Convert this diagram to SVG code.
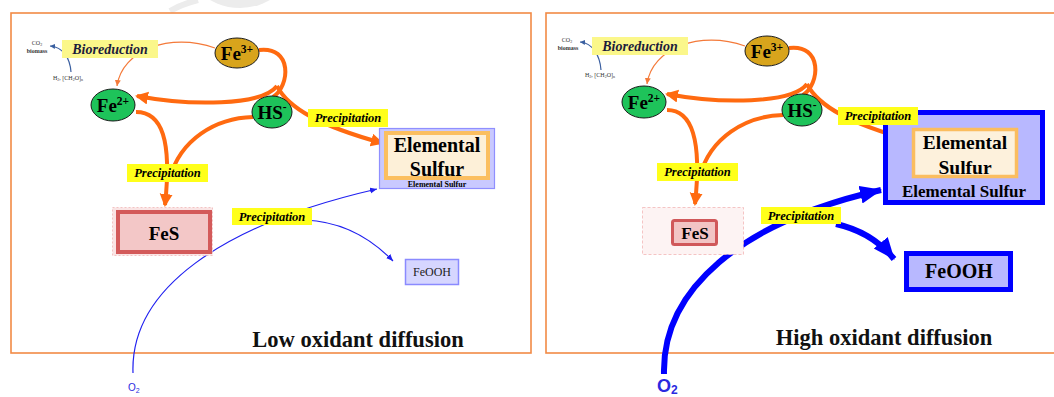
<svg xmlns="http://www.w3.org/2000/svg" width="1054" height="397" viewBox="0 0 1054 397">
<style>
.panel{fill:#fff;stroke:#f28a45;stroke-width:1.6}
.ion{font-family:"Liberation Serif",serif;font-weight:bold;font-size:19px;fill:#000;text-anchor:middle}
.sup{font-size:11.5px}
.lbl{font-family:"Liberation Serif",serif;font-weight:bold;font-style:italic;font-size:12.5px;fill:#000;text-anchor:middle}
.bio{font-family:"Liberation Serif",serif;font-weight:bold;font-style:italic;font-size:14px;fill:#1c1c3c;text-anchor:middle}
.ylw{fill:#ffff1a}
.ylwp{fill:#fbf78a}
.tiny{font-family:"Liberation Serif",serif;font-size:6px;fill:#333;text-anchor:middle}
.box{font-family:"Liberation Serif",serif;font-weight:bold;fill:#000;text-anchor:middle}
.title{font-family:"Liberation Serif",serif;font-weight:bold;font-size:22.5px;fill:#111;text-anchor:middle}
.or{fill:none;stroke:#ff6a10;stroke-width:4}
.orthin{fill:none;stroke:#f47a3a;stroke-width:1.2}
.bthin{fill:none;stroke:#2020f0;stroke-width:1.2}
.bthick{fill:none;stroke:#0000ff;stroke-width:6}
.steel{fill:none;stroke:#3a5fa0;stroke-width:1.2}
.o2{font-family:"Liberation Sans",sans-serif;fill:#2a2ae0}
</style>
<defs>
<marker id="aO" markerUnits="userSpaceOnUse" markerWidth="14" markerHeight="14" refX="11" refY="6.5" orient="auto" viewBox="0 0 14 14"><path d="M0,0 L13,6.5 L0,13 Z" fill="#ff6a10"/></marker>
<marker id="aOt" markerUnits="userSpaceOnUse" markerWidth="7" markerHeight="7" refX="6" refY="3" orient="auto" viewBox="0 0 7 7"><path d="M0,0 L6,3 L0,6 Z" fill="#f47a3a"/></marker>
<marker id="aR" markerUnits="userSpaceOnUse" markerWidth="15" markerHeight="13" refX="13" refY="6" orient="auto" viewBox="0 0 15 13"><path d="M0,0 L14,6 L0,12 Z" fill="#c8544a"/></marker>
<marker id="aBt" markerUnits="userSpaceOnUse" markerWidth="8" markerHeight="7" refX="7" refY="3" orient="auto" viewBox="0 0 8 7"><path d="M0,0 L7,3 L0,6 Z" fill="#2020f0"/></marker>
<marker id="aBk" markerUnits="userSpaceOnUse" markerWidth="23" markerHeight="19" refX="21" refY="9" orient="auto" viewBox="0 0 23 19"><path d="M0,0 L22,9 L0,18 Z" fill="#0000ff"/></marker>
<marker id="aS" markerUnits="userSpaceOnUse" markerWidth="6" markerHeight="6" refX="5" refY="2.5" orient="auto" viewBox="0 0 6 6"><path d="M0,0 L5,2.5 L0,5 Z" fill="#3a5fa0"/></marker>
</defs>
<rect width="1054" height="397" fill="#fff"/>
<g id="watermark">
<circle cx="240" cy="-52" r="60" fill="#ececec"/>
<path d="M170,11 Q182,4 198,0" fill="none" stroke="#ececec" stroke-width="6"/>
</g>
<g id="panels">
<rect class="panel" x="11" y="13" width="520" height="340"/>
<rect class="panel" x="546" y="13" width="520" height="340"/>
</g>
<g id="connectors">
<path class="steel" d="M71,72 C70,58 63,47 50,46" marker-end="url(#aS)"/>
<path class="orthin" d="M215,48 C170,32 122,50 117,86" marker-end="url(#aOt)"/>
<path class="or" d="M259,50 C293,46 290,86 273,97"/>
<path class="or" d="M277,86 C262,106 190,106 137,96" marker-end="url(#aO)"/>
<path class="or" d="M277,86 C288,108 320,126 382,143" marker-end="url(#aO)"/>
<path class="or" d="M136,112 C162,112 172,140 165,205" marker-end="url(#aO)"/>
<path class="or" d="M253,117 C215,118 180,140 170,178"/>
<path class="bthin" d="M133,373 C130,290 220,225 377,189" marker-end="url(#aBt)"/>
<path class="bthin" d="M305,220 Q355,222 393,261" marker-end="url(#aBt)"/>
<path class="steel" d="M601,70 C600,56 593,43 580,42" marker-end="url(#aS)"/>
<path class="orthin" d="M745,46 C700,30 652,48 647,84" marker-end="url(#aOt)"/>
<path class="or" d="M789,48 C823,44 820,84 803,95"/>
<path class="or" d="M807,84 C792,104 720,104 667,94" marker-end="url(#aO)"/>
<path class="or" d="M807,84 C818,106 850,124 910,140" marker-end="url(#aR)"/>
<path class="or" d="M667,110 C692,110 702,140 695,204" marker-end="url(#aO)"/>
<path class="or" d="M783,115 C745,116 710,138 700,176"/>
<path class="bthick" d="M664,374 C662,290 740,222 881,190" marker-end="url(#aBk)"/>
<path class="bthick" d="M836,224 Q872,232 894,259" marker-end="url(#aBk)"/>
</g>
<g id="L-fe3">
<ellipse cx="237" cy="53" rx="22" ry="15" fill="#d8a41c" stroke="#1a1a1a" stroke-width="1"/>
<text class="ion" x="237" y="60">Fe<tspan class="sup" dy="-7">3+</tspan></text>
</g>
<g id="L-fe2">
<ellipse cx="113" cy="105" rx="22" ry="16" fill="#1ec35a" stroke="#1a1a1a" stroke-width="1"/>
<text class="ion" x="113" y="112">Fe<tspan class="sup" dy="-7">2+</tspan></text>
</g>
<g id="L-hs">
<ellipse cx="272" cy="112" rx="20" ry="16" fill="#1ec35a" stroke="#1a1a1a" stroke-width="1"/>
<text class="ion" x="272" y="119">HS<tspan class="sup" dy="-8">-</tspan></text>
</g>
<g id="L-co2">
<text class="tiny" x="37" y="45">CO<tspan font-size="4" dy="1.2">2</tspan></text>
<text class="tiny" x="37" y="53" font-weight="bold">biomass</text>
<text class="tiny" x="68" y="80">H<tspan font-size="4" dy="1.2">2</tspan><tspan dy="-1.2">, [CH</tspan><tspan font-size="4" dy="1.2">2</tspan><tspan dy="-1.2">O]</tspan><tspan font-size="4" dy="1.2">n</tspan></text>
</g>
<g id="L-sulfur">
<rect x="379.5" y="128.5" width="115" height="60" fill="#c9c9ff" stroke="#8f8fff" stroke-width="1.2"/>
<rect x="386" y="133" width="102" height="45" fill="#fdf0d8" stroke="#fbbf60" stroke-width="4"/>
<text class="box" x="437" y="152" font-size="20">Elemental</text>
<text class="box" x="437" y="176" font-size="20">Sulfur</text>
<text class="box" x="437" y="186.5" font-size="8">Elemental Sulfur</text>
</g>
<g id="L-fes">
<rect x="112.5" y="207.5" width="100" height="48" fill="#fae4e4" stroke="#f0b8b8" stroke-width="0.8" stroke-dasharray="2,2"/>
<rect x="118" y="212" width="92" height="40" fill="#f3c7c7" stroke="#d35a5a" stroke-width="4"/>
<text class="box" x="164" y="240" font-size="19">FeS</text>
</g>
<g id="L-feooh">
<rect x="405.5" y="259.5" width="53" height="25" fill="#d6d6ff" stroke="#8a8aff" stroke-width="1.5"/>
<text x="432" y="276" font-family="Liberation Serif, serif" font-size="12" text-anchor="middle" fill="#222">FeOOH</text>
</g>
<g id="L-labels">
<rect class="ylwp" x="62" y="40" width="96" height="18"/>
<text class="bio" x="110" y="54">Bioreduction</text>
<rect class="ylw" x="308" y="109" width="80" height="18"/>
<text class="lbl" x="348" y="122">Precipitation</text>
<rect class="ylw" x="127" y="164" width="81" height="18"/>
<text class="lbl" x="167.5" y="177">Precipitation</text>
<rect class="ylw" x="232" y="208" width="80" height="17"/>
<text class="lbl" x="272" y="221">Precipitation</text>
</g>
<g id="L-o2">
<text class="o2" x="128" y="391" font-size="10">O<tspan font-size="7" dy="2">2</tspan></text>
</g>
<text class="title" x="358" y="347">Low oxidant diffusion</text>
<g id="R-fe3">
<ellipse cx="767" cy="51" rx="22" ry="15" fill="#d8a41c" stroke="#1a1a1a" stroke-width="1"/>
<text class="ion" x="767" y="58">Fe<tspan class="sup" dy="-7">3+</tspan></text>
</g>
<g id="R-fe2">
<ellipse cx="644" cy="102" rx="22" ry="16" fill="#1ec35a" stroke="#1a1a1a" stroke-width="1"/>
<text class="ion" x="644" y="109">Fe<tspan class="sup" dy="-7">2+</tspan></text>
</g>
<g id="R-hs">
<ellipse cx="802" cy="110" rx="20" ry="16" fill="#1ec35a" stroke="#1a1a1a" stroke-width="1"/>
<text class="ion" x="802" y="117">HS<tspan class="sup" dy="-8">-</tspan></text>
</g>
<g id="R-co2">
<text class="tiny" x="567" y="42">CO<tspan font-size="4" dy="1.2">2</tspan></text>
<text class="tiny" x="568" y="50" font-weight="bold">biomass</text>
<text class="tiny" x="600" y="77">H<tspan font-size="4" dy="1.2">2</tspan><tspan dy="-1.2">, [CH</tspan><tspan font-size="4" dy="1.2">2</tspan><tspan dy="-1.2">O]</tspan><tspan font-size="4" dy="1.2">n</tspan></text>
</g>
<g id="R-sulfur">
<rect x="885.5" y="112.5" width="157" height="90" fill="#b8b8ff" stroke="#0000ff" stroke-width="5"/>
<rect x="913.5" y="129.5" width="103" height="47" fill="#fdf1dc" stroke="#fbbd5f" stroke-width="3.5"/>
<text class="box" x="965" y="149" font-size="19.5">Elemental</text>
<text class="box" x="965" y="174" font-size="19.5">Sulfur</text>
<text class="box" x="964" y="197" font-size="17">Elemental Sulfur</text>
</g>
<g id="R-fes">
<rect x="642.5" y="207.5" width="101" height="47" fill="#fdf3f3" stroke="#f2b6b6" stroke-width="0.8" stroke-dasharray="3,2"/>
<rect x="672.5" y="220.5" width="44" height="24" rx="2" fill="#f2c4c4" stroke="#d0585a" stroke-width="3"/>
<text class="box" x="695" y="239" font-size="17">FeS</text>
</g>
<g id="R-feooh">
<rect x="906.5" y="253.5" width="104" height="36" fill="#b8b8ff" stroke="#0000ff" stroke-width="5"/>
<text class="box" x="959" y="278" font-size="20">FeOOH</text>
</g>
<g id="R-labels">
<rect class="ylwp" x="592" y="37" width="96" height="18"/>
<text class="bio" x="640" y="51">Bioreduction</text>
<rect class="ylw" x="838" y="107" width="80" height="18"/>
<text class="lbl" x="878" y="120">Precipitation</text>
<rect class="ylw" x="657" y="163" width="81" height="18"/>
<text class="lbl" x="697.5" y="176">Precipitation</text>
<rect class="ylw" x="761" y="207" width="80" height="17"/>
<text class="lbl" x="801" y="220">Precipitation</text>
</g>
<g id="R-o2">
<text class="o2" x="657" y="392" font-size="18" font-weight="bold">O<tspan font-size="12" dy="2">2</tspan></text>
</g>
<text class="title" x="884" y="345">High oxidant diffusion</text>
</svg>
